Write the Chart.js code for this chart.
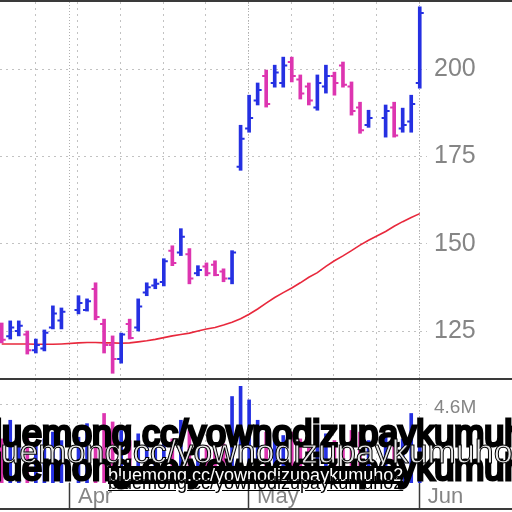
<!DOCTYPE html>
<html>
<head>
<meta charset="utf-8">
<script src="https://cdn.jsdelivr.net/npm/chart.js@4.4.1/dist/chart.umd.min.js"></script>
<style>
  html, body { margin: 0; padding: 0; background: #fff; }
  #wrap { position: relative; width: 512px; height: 512px; overflow: hidden; background: #fff; }
  .panel { position: absolute; left: 0; width: 512px; }
  #pricePanel { top: 0; height: 378px; }
  #volPanel { top: 380px; height: 128px; }
  .rule { position: absolute; left: 0; width: 512px; height: 2px; background: #3a3a3a; }
  .wm { position: absolute; white-space: nowrap; line-height: 1; font-family: "Liberation Sans", Arial, sans-serif; }
</style>
</head>
<body>
<div id="wrap">
  <div class="panel" id="pricePanel"><canvas id="priceChart"></canvas></div>
  <div class="panel" id="volPanel"><canvas id="volChart"></canvas></div>
  <div class="rule" style="top:0"></div>
  <div class="rule" style="top:378px"></div>
  <div class="rule" style="top:508px"></div>

  <!-- watermark text laid over the volume panel -->
  <div class="wm" style="top:416px; left:-26px; font-size:36px; color:#000; -webkit-text-stroke:3px #000;">bluemong.cc/yownodizupaykumuho2</div>
  <div class="wm" style="top:450px; left:-26px; font-size:36px; color:#000; -webkit-text-stroke:3px #000;">bluemong.cc/yownodizupaykumuho2</div>
  <div class="wm" style="top:434px; left:-26px; font-size:34px; color:#e6e6e6; -webkit-text-stroke:1px #000;">bluemong.cc/yownodizupaykumuho2</div>
  <div class="wm" style="top:466px; left:108px; font-size:18px; color:#fff; background:#000;">bluemong.cc/yownodizupaykumuho2</div>
  <div class="wm" style="top:474px; left:108px; font-size:18px; color:#000; text-decoration:underline;">bluemong.cc/yownodizupaykumuho2</div>
</div>

<script>
// Trading days (null values = market closed)
const days = ['Mar 24', 'Mar 25', 'Mar 26', 'Mar 27', 'Mar 30', 'Mar 31', 'Apr 1', 'Apr 2', 'Apr 3', 'Apr 6',
    'Apr 7', 'Apr 8', 'Apr 9', 'Apr 10', 'Apr 13', 'Apr 14', 'Apr 15', 'Apr 16', 'Apr 17', 'Apr 20',
    'Apr 21', 'Apr 22', 'Apr 23', 'Apr 24', 'Apr 27', 'Apr 28', 'Apr 29', 'Apr 30', 'May 1', 'May 4',
    'May 5', 'May 6', 'May 7', 'May 8', 'May 11', 'May 12', 'May 13', 'May 14', 'May 15', 'May 18',
    'May 19', 'May 20', 'May 21', 'May 22', 'May 25', 'May 26', 'May 27', 'May 28', 'May 29', 'Jun 1'];

const opens = [126, 123.5, 125, 124, 119.5, 120, 126, 128, null, 131,
    131, 137, 127, 121, 117, 127, 126, 136, 138, 139,
    148, 147.5, 147, 141.5, 143.5, 144, 142, 140, 172, 183,
    191, 198, 196, 196, 202, 197, 195, 189, 195, 198,
    201, 195, 189, 184, null, 186, 189, 183, 185, 196];
const highs = [127.3, 127.9, 127.9, 125.0, 122.7, 125.3, 132.2, 131.6, null, 135.1,
    134.2, 138.8, 128.4, 123.6, 124.4, 128.4, 134.2, 138.8, 139.9, 145.7,
    149.4, 154.3, 148.6, 143.7, 144.5, 145.1, 142.8, 148.0, 183.9, 192.5,
    196.0, 199.7, 201.1, 203.4, 203.4, 198.3, 196.0, 198.3, 201.1, 199.1,
    202.0, 196.3, 190.5, 188.2, null, 189.7, 190.5, 188.8, 192.5, 217.8];
const lows = [121.6, 122.7, 123.6, 118.4, 118.7, 119.3, 125.6, 125.6, null, 129.9,
    130.7, 128.2, 118.7, 112.9, 115.8, 122.7, 125.0, 135.1, 137.1, 137.9,
    143.7, 146.6, 138.5, 140.8, 140.8, 140.8, 139.1, 138.5, 171.0, 181.9,
    189.7, 189.1, 194.8, 194.8, 196.3, 191.4, 189.7, 188.2, 193.1, 192.5,
    194.8, 186.8, 181.6, 183.3, null, 180.5, 180.5, 181.9, 181.9, 194.5];
const closes = [122.5, 126, 126.5, 119.5, 121, 124.5, 130, 130.5, null, 133,
    133.5, 129, 121, 117, 124, 123, 132, 137.5, 138.5, 145,
    144.5, 152, 140, 142.5, 141.5, 141, 140, 147.5, 180, 186,
    194, 190, 199, 201, 198, 193, 191, 196, 198, 196,
    195.5, 188, 182.5, 186, null, 188, 181, 184, 190, 216];

// 50-day moving average
const movingAvg = [121.3, 121.3, 121.3, 121.3, 121.2, 121.2, 121.2, 121.3, null, 121.6,
    121.7, 121.7, 121.6, 121.6, 121.5, 121.6, 121.9, 122.2, 122.6, 123.1,
    123.6, 124.0, 124.4, 125.0, 125.6, 126.0, 126.7, 127.5, 128.5, 129.8,
    131.3, 133.0, 134.6, 136.0, 137.3, 138.8, 140.4, 141.7, 143.5, 145.1,
    146.5, 148.0, 149.6, 151.0, null, 153.5, 155.0, 156.3, 157.5, 158.6];

// Volume in millions
const volumes = [2.6, 3.7, 2.5, 2.8, 2.4, 2.6, 3.0, 2.5, null, 2.7,
    3.5, 3.0, 4.1, 3.6, 3.1, 2.5, 2.9, 2.6, 2.2, 2.8,
    2.6, 3.7, 3.1, 2.4, 2.2, 2.0, 2.3, 5.1, 5.7, 4.9,
    3.7, 3.0, 2.9, 2.8, 3.0, 2.6, 2.7, 3.4, 2.9, 2.5,
    2.6, 3.1, 3.0, 2.5, null, 2.8, 3.0, 2.6, 4.1, 3.2];

// Axis labels
const priceTicks = [125, 150, 175, 200];
const volumeTicks = [4.6];
const monthLabels = ['Apr', 'May', 'Jun'];
const monthSlots = [8, 29, 49];

const BLUE = '#2530e2';
const PINK = '#dd35b0';
const MA_RED = '#e8283c';
const GRID = '#c2c2c2';
const LABEL = '#858585';
const FONT = '"Liberation Sans", Arial, sans-serif';

// up/down colouring: close vs previous close
const barColors = [];
let prevClose = null;
closes.forEach((c, i) => {
    if (c == null) { barColors.push(null); return; }
    const ref = prevClose == null ? opens[i] : prevClose;
    barColors.push(c >= ref ? BLUE : PINK);
    prevClose = c;
});

const traded = days.map((d, i) => i).filter(i => highs[i] != null);
const xRange = { min: -0.2, max: 49.85 };

// Weekly dotted lines, denser month lines, solid month ticks under the volume panel
const slotGrid = {
    id: 'slotGrid',
    beforeDatasetsDraw(chart, args, opts) {
        const { ctx, chartArea: a, scales: { x } } = chart;
        const vline = (s, y0, y1) => {
            const px = Math.round(x.getPixelForValue(s)) - 0.5;
            ctx.beginPath();
            ctx.moveTo(px, y0);
            ctx.lineTo(px, y1);
            ctx.stroke();
        };
        ctx.save();
        ctx.lineWidth = 1;
        ctx.strokeStyle = GRID;
        ctx.setLineDash([2, 4]);
        for (let s = 4; s < days.length; s += 5) vline(s, a.top, a.bottom);
        ctx.strokeStyle = '#b0b0b0';
        ctx.setLineDash([1, 2]);
        monthSlots.forEach(s => vline(s, a.top, a.bottom));
        if (opts.monthTicks) {
            ctx.setLineDash([]);
            ctx.strokeStyle = '#3a3a3a';
            ctx.lineWidth = 1.5;
            monthSlots.forEach(s => vline(s, a.bottom, chart.height));
        }
        ctx.restore();
    }
};

// Open (left) and close (right) ticks on each price bar
const ohlcTicks = {
    id: 'ohlcTicks',
    afterDatasetsDraw(chart) {
        const { ctx, scales: { x, y } } = chart;
        ctx.save();
        ctx.lineWidth = 2;
        traded.forEach(i => {
            const px = x.getPixelForValue(i);
            ctx.strokeStyle = barColors[i];
            ctx.beginPath();
            ctx.moveTo(px - 4, y.getPixelForValue(opens[i]));
            ctx.lineTo(px, y.getPixelForValue(opens[i]));
            ctx.moveTo(px, y.getPixelForValue(closes[i]));
            ctx.lineTo(px + 4, y.getPixelForValue(closes[i]));
            ctx.stroke();
        });
        ctx.restore();
    }
};

function rightAxis(min, max, tickValues, fontSize, format, labelOffset) {
    return {
        position: 'right',
        min: min,
        max: max,
        afterBuildTicks: s => { s.ticks = tickValues.map(v => ({ value: v })); },
        afterFit: s => { s.width = 85; s.paddingTop = 0; s.paddingBottom = 0; },
        grid: { color: GRID, drawTicks: false },
        border: { display: false, dash: [2, 4] },
        ticks: {
            padding: 7,
            labelOffset: labelOffset,
            color: LABEL,
            font: { family: FONT, size: fontSize },
            callback: format
        }
    };
}

Chart.defaults.animation = false;

new Chart(document.getElementById('priceChart'), {
    type: 'bar',
    data: {
        datasets: [
            {
                type: 'bar',
                data: traded.map(i => ({ x: i, y: [lows[i], highs[i]] })),
                backgroundColor: traded.map(i => barColors[i]),
                barThickness: 3,
                borderWidth: 0,
                order: 0
            },
            {
                type: 'line',
                data: movingAvg.map((v, i) => ({ x: i, y: v })),
                borderColor: MA_RED,
                borderWidth: 1.6,
                pointRadius: 0,
                spanGaps: true,
                order: 1
            }
        ]
    },
    options: {
        responsive: true,
        maintainAspectRatio: false,
        events: [],
        layout: { padding: { top: 2, left: 0, right: 0, bottom: 0 } },
        plugins: { legend: { display: false }, tooltip: { enabled: false }, slotGrid: {} },
        scales: {
            x: { type: 'linear', display: false, offset: false, min: xRange.min, max: xRange.max },
            y: rightAxis(111.55, 219.18, priceTicks, 25, v => v, 0)
        }
    },
    plugins: [slotGrid, ohlcTicks]
});

new Chart(document.getElementById('volChart'), {
    type: 'bar',
    data: {
        datasets: [{
            data: traded.map(i => ({ x: i, y: volumes[i] })),
            backgroundColor: traded.map(i => barColors[i]),
            barThickness: 3,
            borderWidth: 0
        }]
    },
    options: {
        responsive: true,
        maintainAspectRatio: false,
        events: [],
        layout: { padding: 0 },
        plugins: { legend: { display: false }, tooltip: { enabled: false }, slotGrid: { monthTicks: true } },
        scales: {
            x: {
                type: 'linear',
                offset: false,
                min: xRange.min,
                max: xRange.max,
                afterBuildTicks: s => { s.ticks = monthSlots.map(v => ({ value: v })); },
                afterFit: s => { s.height = 25; s.paddingLeft = 0; s.paddingRight = 0; },
                grid: { display: false, drawTicks: false },
                border: { display: false },
                ticks: {
                    align: 'start',
                    labelOffset: 8,
                    padding: 1,
                    maxRotation: 0,
                    autoSkip: false,
                    color: LABEL,
                    font: { family: FONT, size: 22 },
                    callback: (v, idx) => monthLabels[idx]
                }
            },
            y: rightAxis(0, 6.074, volumeTicks, 19, v => v + 'M', 3)
        }
    },
    plugins: [slotGrid]
});
</script>
</body>
</html>
